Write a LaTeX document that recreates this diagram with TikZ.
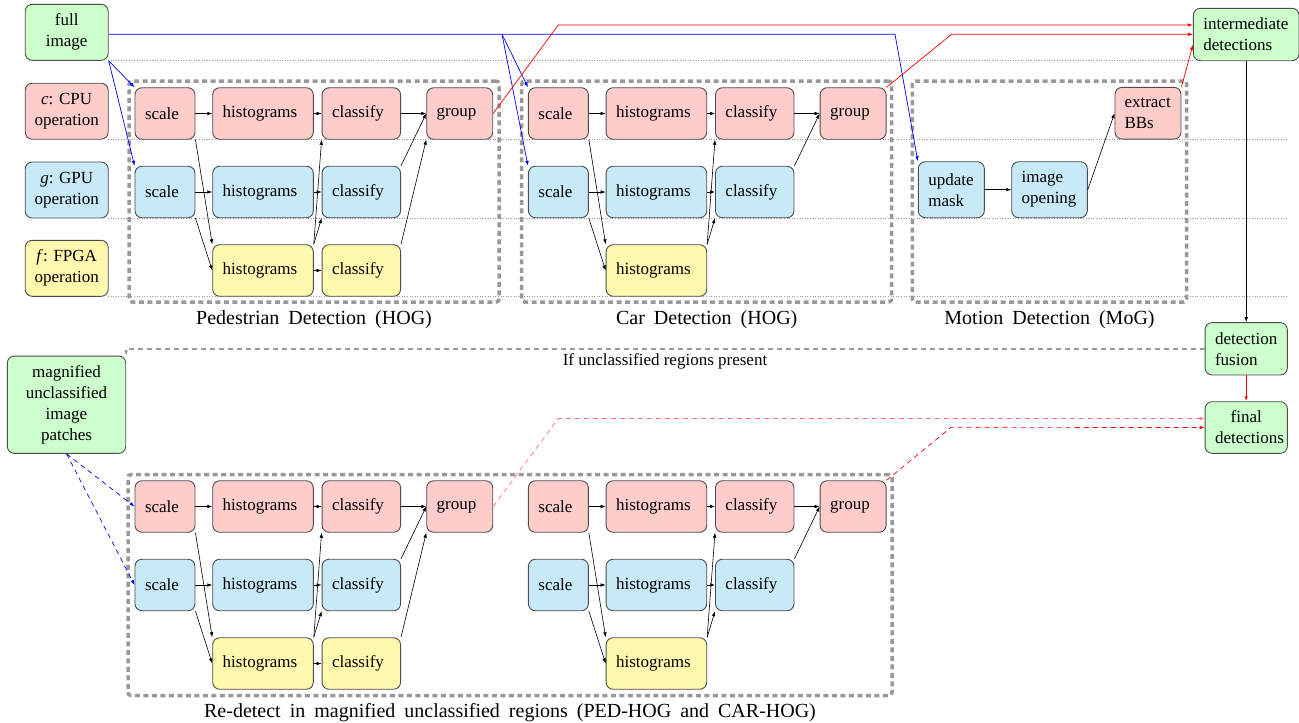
\documentclass[tikz,border=0pt]{standalone}
\usepackage{fontspec}
\setmainfont{Liberation Serif}
\usetikzlibrary{arrows.meta,calc}
\frenchspacing
\definecolor{cpuC}{RGB}{255,204,204}
\definecolor{gpuC}{RGB}{199,233,248}
\definecolor{fpgaC}{RGB}{255,249,176}
\definecolor{ioC}{RGB}{204,255,204}
\definecolor{bordC}{RGB}{77,77,77}
\definecolor{grpC}{RGB}{153,153,153}
\newcommand\nfont{\fontsize{17}{21}\selectfont\frenchspacing}
\newcommand\cfont{\fontsize{20}{24}\selectfont\spaceskip=9pt plus 2pt minus 1pt\relax}
\tikzset{
  box/.style={draw=bordC, line width=0.9pt, rounded corners=7pt, inner xsep=10pt, inner ysep=0pt,
    font=\nfont, minimum height=51.5pt, align=left},
  cpu/.style={box, fill=cpuC},
  gpu/.style={box, fill=gpuC},
  fpga/.style={box, fill=fpgaC},
  io/.style={box, fill=ioC},
  sc/.style={text width=40pt},
  hi/.style={text width=80.6pt},
  cl/.style={text width=58.5pt},
  gr/.style={text width=46pt},
  arr/.style={line width=0.6pt, -{Latex[length=5pt,width=3.6pt]}},
  bluearr/.style={blue, line width=0.7pt, -{Latex[length=5pt,width=3.6pt]}},
  redarr/.style={red, line width=0.7pt, -{Latex[length=5pt,width=3.6pt]}},
  grpbox/.style={draw=grpC, line width=3.5pt, dash pattern=on 5pt off 3.5pt, rounded corners=3pt, inner sep=0pt},
  dotline/.style={gray!80, dotted, line width=0.6pt},
  caption/.style={font=\cfont, inner sep=0pt},
}
\newcommand\HOG[3]{%
  \node[cpu,sc] (#1s1) at (165+#2,#3) {scale};
  \node[cpu,hi] (#1h1) at (263+#2,#3) {histograms};
  \node[cpu,cl] (#1c1) at (361.3+#2,#3) {classify};
  \node[cpu,gr] (#1g) at (459.7+#2,#3) {group};
  \node[gpu,sc] (#1s2) at (165+#2,#3+78.5) {scale};
  \node[gpu,hi] (#1h2) at (263+#2,#3+78.5) {histograms};
  \node[gpu,cl] (#1c2) at (361.3+#2,#3+78.5) {classify};
  \node[fpga,hi] (#1h3) at (263+#2,#3+157) {histograms};
  \draw[arr] (#1s1.east) -- (#1h1.west);
  \draw[arr] (#1h1.east) -- (#1c1.west);
  \draw[arr] (#1c1.east) -- (#1g.west);
  \draw[arr] (#1s2.east) -- (#1h2.west);
  \draw[arr] (#1h2.east) -- (#1c2.west);
  \draw[arr] (#1s1.south east) -- (#1h3.north west);
  \draw[arr] (#1s2.south east) -- (#1h3.west);
  \draw[arr] (#1h3.north east) -- (#1c1.south west);
  \draw[arr] (#1h3.north east) -- (#1c2.south west);
  \draw[arr] (#1c2.north east) -- (#1g.west);
}
\newcommand\HOGextra[3]{%
  \node[fpga,cl] (#1c3) at (361.3+#2,#3+157) {classify};
  \draw[arr] (#1h3.east) -- (#1c3.west);
  \draw[arr] (#1c3.north east) -- (#1g.south west);
}
\begin{document}
\begin{tikzpicture}[x=1pt,y=-1pt]
\useasboundingbox (0,0) rectangle (1299,723);
% dotted lane separators
\draw[dotline] (108,60.5) -- (1193,60.5);
\draw[dotline] (108,139.2) -- (1287,139.2);
\draw[dotline] (108,218) -- (1287,218);
\draw[dotline] (108,296.5) -- (1287,296.5);

% group frames
\node[grpbox, minimum width=370pt, minimum height=221pt] (pedbox) at (314,191.5) {};
\node[grpbox, minimum width=370pt, minimum height=221pt] (carbox) at (706.7,191.5) {};
\node[grpbox, minimum width=274.4pt, minimum height=221pt] (motbox) at (1049.5,191.5) {};
\node[grpbox, minimum width=764pt, minimum height=221pt] (redbox) at (510,585) {};

% legend
\node[io, align=center, text width=67pt, inner xsep=8pt, minimum height=56pt] (full) at (66.7,32.3) {full\\image};
\node[cpu, align=center, text width=67pt, inner xsep=8pt, minimum height=56pt] (lc) at (66.7,111.2) {\textit{c}: CPU\\operation};
\node[gpu, align=center, text width=67pt, inner xsep=8pt, minimum height=56pt] (lg) at (66.7,190) {\textit{g}: GPU\\operation};
\node[fpga, align=center, text width=67pt, inner xsep=8pt, minimum height=56pt] (lf) at (66.7,268.3) {\textit{f}: FPGA\\operation};

% HOG pipelines
\HOG{p}{0}{113.5}
\HOGextra{p}{0}{113.5}
\HOG{c}{393.4}{113.5}
\HOG{q}{0}{506.5}
\HOGextra{q}{0}{506.5}
\HOG{d}{393.4}{506.5}

% motion detection
\node[gpu, text width=46pt, minimum height=56pt] (upd) at (951.3,189.7) {update\\mask};
\node[gpu, text width=55.6pt, minimum height=56pt] (opn) at (1049.5,189.7) {image\\opening};
\node[cpu, text width=47pt, inner xsep=9.5pt, minimum height=51.7pt] (ext) at (1148,113.2) {extract\\BBs};
\draw[arr] (upd.east) -- (opn.west);
\draw[arr] (opn.east) -- (ext.west);

% right column
\node[io, text width=85.7pt, minimum height=52.4pt] (inter) at (1246.2,34.5) {intermediate\\detections};
\node[io, text width=62.3pt, minimum height=52.3pt] (fus) at (1246.2,348.8) {detection\\fusion};
\node[io, align=center, text width=62.3pt, minimum height=51.6pt] (fin) at (1246.2,427.5) {final\\detections};
\node[io, align=center, text width=98.4pt, minimum height=97.3pt] (mag) at (66.5,404.7) {magnified\\unclassified\\image\\patches};

% captions
\node[caption] (pedcap) at (314,320) {Pedestrian Detection (HOG)};
\node[caption] (carcap) at (706.7,320) {Car Detection (HOG)};
\node[caption] (motcap) at (1049.5,320) {Motion Detection (MoG)};
\node[caption] (redcap) at (510,712.5) {Re-detect in magnified unclassified regions (PED-HOG and CAR-HOG)};

% blue input connectors
\coordinate (bj1) at (502,34.3);
\coordinate (bj2) at (895,34.3);
\draw[bluearr] (full.east |- bj1) -- (bj1) -- (bj2) -- (upd.north west);
\draw[bluearr] (bj1) -- (cs1.north west);
\draw[bluearr] (bj1) -- (cs2.north west);
\draw[bluearr] (full.south east) -- (ps1.north west);
\draw[bluearr] (full.south east) -- (ps2.north west);

% red outputs to intermediate detections
\coordinate (rj1) at (558.3,25);
\coordinate (rj2) at (951.5,34.3);
\draw[redarr] (pg.east) -- (rj1) -- (rj1 -| inter.west);
\draw[redarr] (cg.north east) -- (rj2) -- (rj2 -| inter.west);
\draw[redarr] (ext.north east) -- ($(inter.west)+(0,10.5)$);

% right column flow
\draw[line width=0.8pt, -{Latex[length=5pt,width=3.6pt]}] (inter.south) -- (fus.north);
\draw[red, line width=1pt, -{Latex[length=5pt,width=3.6pt]}] (fus.south) -- (fin.north);

% feedback
\draw[grpC, line width=1.4pt, dash pattern=on 5pt off 4pt, -{Latex[length=5pt,width=3.6pt]}] (fus.west) -- (fus.west -| mag.north east) -- (mag.north east);
\node[font=\nfont, inner sep=0pt] (iflbl) at (665,361) {If unclassified regions present};

% magnified patches to re-detect
\draw[blue, line width=0.7pt, dash pattern=on 5pt off 4pt, -{Latex[length=5pt,width=3.6pt]}] (mag.south) -- (qs1.west);
\draw[blue, line width=0.7pt, dash pattern=on 5pt off 4pt, -{Latex[length=5pt,width=3.6pt]}] (mag.south) -- (qs2.west);

% red dashed outputs to final detections
\coordinate (rj3) at (558.3,418.5);
\coordinate (rj4) at (951,427.3);
\draw[red!55, line width=0.7pt, dash pattern=on 5pt off 4pt, -{Latex[length=5pt,width=3.6pt]}] (qg.east) -- (rj3) -- (rj3 -| fin.west);
\draw[red, line width=0.7pt, dash pattern=on 5pt off 4pt, -{Latex[length=5pt,width=3.6pt]}] (dg.north east) -- (rj4) -- (fin.west);
\end{tikzpicture}
\end{document}
